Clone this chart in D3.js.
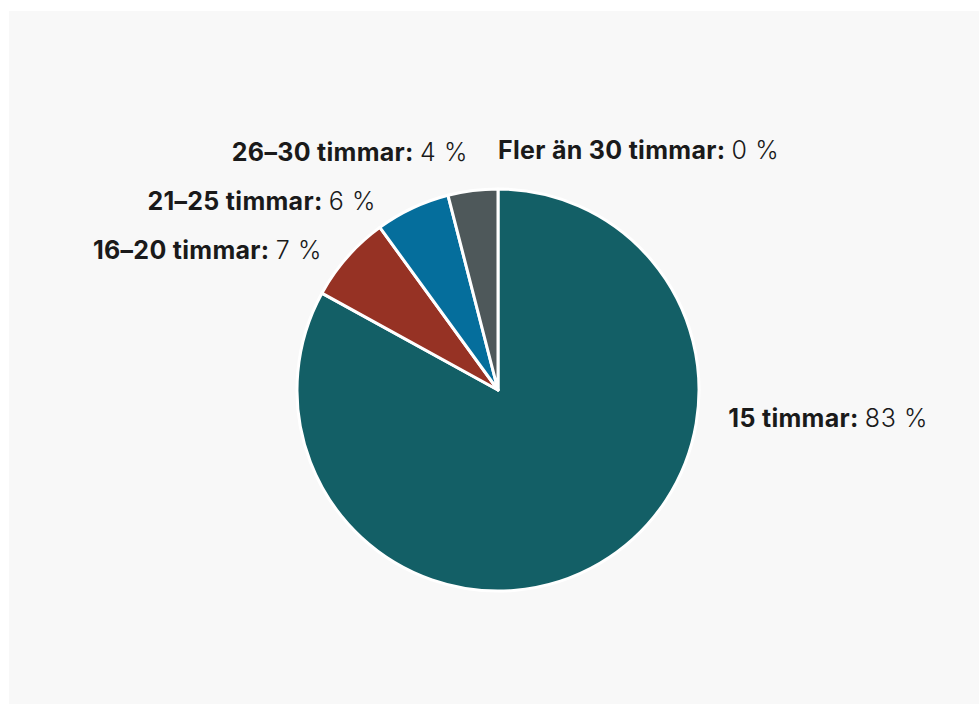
<!DOCTYPE html>
<html>
<head>
<meta charset="utf-8">
<script src="https://cdn.jsdelivr.net/npm/d3@7/dist/d3.min.js"></script>
<style>
  html, body { margin: 0; padding: 0; background: #ffffff; }
  #view { width: 979px; height: 704px; }
  text { font-family: Inter, "Noto Sans", sans-serif; }
</style>
</head>
<body>
<div id="view"></div>
<script>
var width = 979, height = 704;

// kategorier och andelar (procent)
var categories = ["15 timmar", "16–20 timmar", "21–25 timmar", "26–30 timmar", "Fler än 30 timmar"];
var values = [83, 7, 6, 4, 0];
var valueLabels = ["83 %", "7 %", "6 %", "4 %", "0 %"];
var colors = ["#135f66", "#963224", "#056e9c", "#4e585a"];

var cx = 498, cy = 390, radius = 201;

var svg = d3.select("#view").append("svg")
	.attr("width", width)
	.attr("height", height);

// bakgrundspanel
svg.append("rect")
	.attr("x", 9).attr("y", 11)
	.attr("width", width - 9).attr("height", height - 11)
	.attr("fill", "#f8f8f8");

var data = categories.map(function(c, i) {
	return { name: c, value: values[i], label: valueLabels[i] };
});

var pie = d3.pie()
	.value(function(d) { return d.value; })
	.sort(null);

var arcs = pie(data);

var arc = d3.arc()
	.innerRadius(0)
	.outerRadius(radius);

var color = d3.scaleOrdinal()
	.domain(categories)
	.range(colors);

var g = svg.append("g")
	.attr("transform", "translate(" + cx + "," + cy + ")");

g.selectAll(".slice")
	.data(arcs.filter(function(d) { return d.value > 0; }))
	.enter()
	.append("path")
	.attr("class", "slice")
	.attr("d", arc)
	.attr("fill", function(d) { return color(d.data.name); })
	.attr("stroke", "#ffffff")
	.attr("stroke-width", 3)
	.attr("stroke-linejoin", "round");

// etikettplacering: mittvinkel, sedan isärflyttning på vänster sida
var labelR = 240, labelRx = 225, labelGap = 49;
arcs.forEach(function(d) {
	var a = (d.startAngle + d.endAngle) / 2;
	var big = d.endAngle - d.startAngle > Math.PI;
	if (big) a = Math.PI * 0.538;  // största sektorn: etikett till höger
	var r = big ? 232 : labelR;
	d.la = a;
	d.right = a < Math.PI || a > 2 * Math.PI - 0.01;
	d.lx = Math.sin(a) * r;
	d.ly = -Math.cos(a) * r;
});
var left = arcs.filter(function(d) { return !d.right; })
	.sort(function(a, b) { return a.ly - b.ly; });
for (var i = 1; i < left.length; i++) {
	left[i].ly = Math.max(left[i].ly, left[i - 1].ly + labelGap);
}
left.forEach(function(d) {
	if (Math.abs(d.ly) < labelRx) d.lx = -Math.sqrt(labelRx * labelRx - d.ly * d.ly);
});

var labels = g.selectAll(".lbl")
	.data(arcs)
	.enter()
	.append("text")
	.attr("class", "lbl")
	.attr("font-size", "25px")
	.attr("fill", "#1a1a1a")
	.attr("dominant-baseline", "central")
	.attr("x", function(d) { return d.lx; })
	.attr("y", function(d) { return d.ly; })
	.attr("text-anchor", function(d) { return d.right ? "start" : "end"; });

labels.append("tspan")
	.attr("font-weight", 700)
	.attr("letter-spacing", "0.3px")
	.text(function(d) { return d.data.name + ": "; });
labels.append("tspan")
	.attr("font-weight", 300)
	.attr("letter-spacing", "0.6px")
	.text(function(d) { return d.data.label; });
</script>
</body>
</html>
